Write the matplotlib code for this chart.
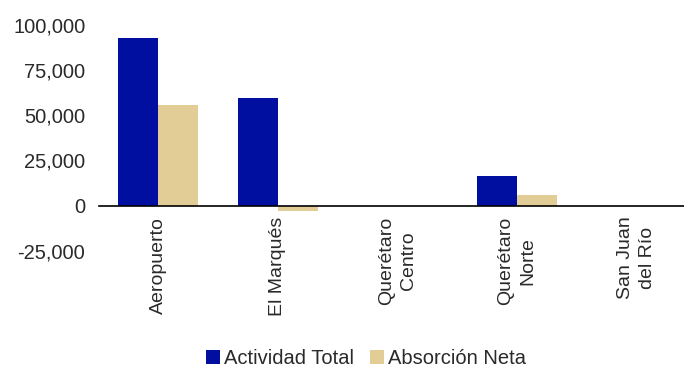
import matplotlib
matplotlib.use("Agg")
import matplotlib.pyplot as plt
from matplotlib.ticker import FuncFormatter
import numpy as np

categories = ["Aeropuerto", "El Marqués", "Querétaro\nCentro", "Querétaro\nNorte", "San Juan\ndel Río"]
actividad_total = [93000, 59700, 0, 16400, 0]
absorcion_neta = [55700, -3000, 0, 5700, 0]
series_names = ["Actividad Total", "Absorción Neta"]
colors = ["#000F9F", "#E3CD96"]

plt.rcParams['font.family'] = ['Liberation Sans', 'DejaVu Sans']
fig = plt.figure(figsize=(6.84, 3.73), dpi=100)
ax = fig.add_axes([0.145, 0.328, 0.855, 0.605])

x = np.arange(len(categories))
w = 0.335
ax.bar(x - w/2, actividad_total, width=w, color=colors[0], label=series_names[0])
ax.bar(x + w/2, absorcion_neta, width=w, color=colors[1], label=series_names[1])

ax.set_ylim(-25000, 100000)
ax.set_xlim(-0.495, 4.4)
ax.set_yticks([-25000, 0, 25000, 50000, 75000, 100000])
ax.yaxis.set_major_formatter(FuncFormatter(lambda v, p: f"{int(v):,}"))
for s in ["left", "right", "top"]:
    ax.spines[s].set_visible(False)
ax.spines["bottom"].set_position(("data", 0))
ax.spines["bottom"].set_color("black")
ax.spines["bottom"].set_linewidth(1.2)
ax.tick_params(axis="y", length=0, labelsize=14.5, colors="#2a2a2a", pad=10)
ax.tick_params(axis="x", length=0, labelsize=14, colors="#2a2a2a", pad=8)
ax.set_xticks(x)
ax.set_xticklabels(categories, rotation=90, ha="center", va="top", multialignment="center")
for t in ax.get_xticklabels():
    t.set_linespacing(1.4)

handles, labels = ax.get_legend_handles_labels()
fig.legend(handles, labels, loc="lower center", bbox_to_anchor=(0.535, -0.035), ncol=2, frameon=False,
           fontsize=14.5, handlelength=0.7, handleheight=0.7, handletextpad=0.2, columnspacing=0.8,
           labelcolor="#2a2a2a")

fig.savefig("out.png", dpi=100)
